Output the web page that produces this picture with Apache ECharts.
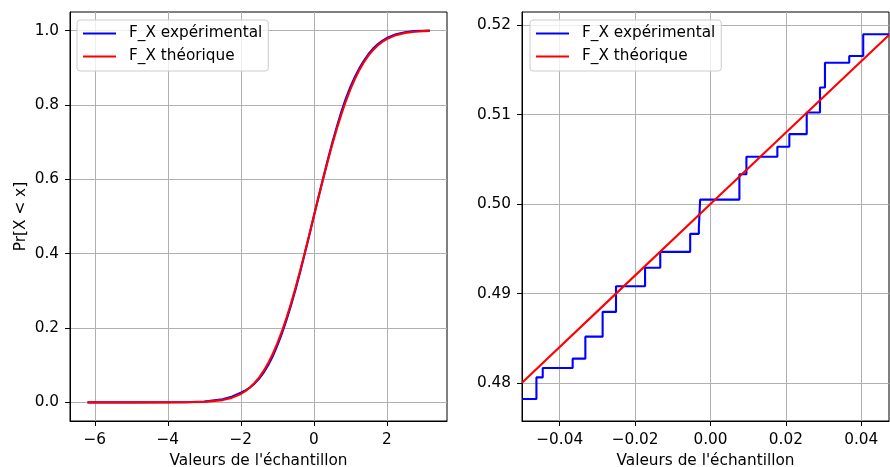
<!DOCTYPE html>
<html>
<head>
<meta charset="utf-8">
<script src="https://cdn.jsdelivr.net/npm/echarts@6/dist/echarts.min.js"></script>
<style>
  html, body { margin: 0; padding: 0; background: #ffffff; }
  #chart { width: 890px; height: 467px; }
</style>
</head>
<body>
<div id="chart"></div>
<script>
// ---------- Series names ----------
const nameExp = 'F_X expérimental';
const nameTheo = 'F_X théorique';

// ---------- Left panel: full CDF ----------
const leftX = [-6.2, -5.0, -4.0, -3.5, -3.0, -2.5, -2.25, -2.0, -1.875, -1.75, -1.625, -1.5, -1.375, -1.25, -1.125,
               -1.0, -0.875, -0.75, -0.625, -0.5, -0.375, -0.25, -0.125, 0.0, 0.125, 0.25, 0.375, 0.5, 0.625,
               0.75, 0.875, 1.0, 1.125, 1.25, 1.375, 1.5, 1.625, 1.75, 1.875, 2.0, 2.25, 2.5, 2.75, 3.0, 3.18];
const leftExp = [0.0001, 0.0001, 0.0003, 0.0006, 0.0025, 0.0085, 0.0150, 0.0260, 0.0325, 0.0400, 0.0505, 0.0635, 0.0800, 0.1000, 0.1240,
                 0.1525, 0.1850, 0.2210, 0.2610, 0.3040, 0.3500, 0.3990, 0.4490, 0.5005, 0.5510, 0.6005, 0.6490, 0.6960, 0.7395,
                 0.7800, 0.8165, 0.8480, 0.8755, 0.8990, 0.9195, 0.9370, 0.9515, 0.9630, 0.9725, 0.9800, 0.9900, 0.9955, 0.9985, 0.9996, 1.0000];
const leftTheo = [0.0000, 0.0000, 0.00003, 0.00023, 0.00135, 0.00621, 0.01222, 0.02275, 0.03040, 0.04006, 0.05208, 0.06681, 0.08459, 0.10565, 0.13029,
                  0.15866, 0.19079, 0.22663, 0.26599, 0.30854, 0.35383, 0.40129, 0.45026, 0.50000, 0.54974, 0.59871, 0.64617, 0.69146, 0.73401,
                  0.77337, 0.80921, 0.84134, 0.86971, 0.89435, 0.91541, 0.93319, 0.94792, 0.95994, 0.96960, 0.97725, 0.98778, 0.99379, 0.99702, 0.99865, 0.99926];

// ---------- Right panel: zoom around 0 ----------
// experimental step function: x of each jump and level after the jump
const rightExpX = [-0.0500, -0.04617, -0.04450, -0.03656, -0.03319, -0.02861, -0.02506, -0.01735, -0.01332, -0.00538,
                   -0.00308, -0.00273, 0.00768, 0.00954, 0.01775, 0.02093, 0.02554, 0.02906, 0.03038, 0.03682, 0.04053, 0.04737];
const rightExpY = [0.47823, 0.48065, 0.48170, 0.48274, 0.48520, 0.48796, 0.49082, 0.49289, 0.49467, 0.49668,
                   0.49735, 0.50050, 0.50333, 0.50529, 0.50640, 0.50781, 0.51022, 0.51302, 0.51578, 0.51653, 0.51896, 0.51896];
const rightTheoX = [-0.0500, -0.0250, 0.0000, 0.0250, 0.04737];
const rightTheoY = [0.48006, 0.49003, 0.50000, 0.50997, 0.51889];

// ---------- Tick values and labels ----------
const leftXTicks = [-6, -4, -2, 0, 2];
const leftXLabels = ['\u22126', '\u22124', '\u22122', '0', '2'];
const leftYTicks = [0, 0.2, 0.4, 0.6, 0.8, 1.0];
const leftYLabels = ['0.0', '0.2', '0.4', '0.6', '0.8', '1.0'];
const rightXTicks = [-0.04, -0.02, 0, 0.02, 0.04];
const rightXLabels = ['\u22120.04', '\u22120.02', '0.00', '0.02', '0.04'];
const rightYTicks = [0.48, 0.49, 0.50, 0.51, 0.52];
const rightYLabels = ['0.48', '0.49', '0.50', '0.51', '0.52'];

const xTitle = "Valeurs de l'échantillon";
const yTitle = 'Pr[X < x]';

// ---------- Helpers ----------
const FONT = 'DejaVu Sans';
const FS = 15.3;
function zip(xs, ys) { return xs.map((x, i) => [x, ys[i]]); }
function lookup(ticks, labels) {
  return function (v) {
    for (let i = 0; i < ticks.length; i++) {
      if (Math.abs(ticks[i] - v) < 1e-9) return labels[i];
    }
    return '';
  };
}
function valueAxis(gridIndex, min, max, ticks, labels, margin, extra) {
  return Object.assign({
    type: 'value',
    gridIndex: gridIndex,
    min: min,
    max: max,
    axisLine: { show: true, onZero: false, lineStyle: { color: '#000', width: 1 } },
    axisTick: { show: true, inside: false, length: 5, customValues: ticks, lineStyle: { color: '#000', width: 1 } },
    axisLabel: { show: true, customValues: ticks, formatter: lookup(ticks, labels), margin: margin,
                 color: '#000', fontFamily: FONT, fontSize: FS,
                 showMinLabel: true, showMaxLabel: true, hideOverlap: false },
    splitLine: { show: true, lineStyle: { color: '#b0b0b0', width: 1 } },
    nameTextStyle: { color: '#000', fontFamily: FONT, fontSize: FS }
  }, extra || {});
}

const legendCommon = {
  orient: 'vertical',
  itemWidth: 33,
  itemHeight: 14,
  itemGap: 8,
  icon: 'path://M0,0L33,0L33,2.1L0,2.1Z',
  padding: [6, 6, 7, 6],
  backgroundColor: 'rgba(255,255,255,0.8)',
  borderColor: '#cccccc',
  borderWidth: 1,
  borderRadius: 3,
  textStyle: { color: '#000', fontFamily: FONT, fontSize: FS, padding: [0, 0, 0, 8] },
  data: [nameExp, nameTheo]
};

const option = {
  animation: false,
  backgroundColor: '#ffffff',
  textStyle: { fontFamily: FONT },
  grid: [
    { left: 70, top: 12, width: 377, height: 409, containLabel: false, outerBoundsMode: 'none',
      show: true, borderColor: '#000', borderWidth: 1, backgroundColor: 'transparent' },
    { left: 522, top: 12, width: 367, height: 409, containLabel: false, outerBoundsMode: 'none',
      show: true, borderColor: '#000', borderWidth: 1, backgroundColor: 'transparent' }
  ],
  legend: [
    Object.assign({ left: 77, top: 20 }, legendCommon),
    Object.assign({ left: 530, top: 20 }, legendCommon)
  ],
  xAxis: [
    valueAxis(0, -6.68, 3.65, leftXTicks, leftXLabels, 12, { name: xTitle, nameLocation: 'middle', nameGap: 33 }),
    valueAxis(1, -0.05, 0.04737, rightXTicks, rightXLabels, 12, { name: xTitle, nameLocation: 'middle', nameGap: 33 })
  ],
  yAxis: [
    valueAxis(0, -0.05, 1.05, leftYTicks, leftYLabels, 11, { name: yTitle, nameLocation: 'middle', nameGap: 41 }),
    valueAxis(1, 0.47578, 0.52145, rightYTicks, rightYLabels, 11, {})
  ],
  series: [
    { name: nameExp, type: 'line', xAxisIndex: 0, yAxisIndex: 0, data: zip(leftX, leftExp),
      symbol: 'none', lineStyle: { color: '#0000ff', width: 2.1 }, itemStyle: { color: '#0000ff' }, z: 2 },
    { name: nameTheo, type: 'line', xAxisIndex: 0, yAxisIndex: 0, data: zip(leftX, leftTheo),
      symbol: 'none', lineStyle: { color: '#ff0000', width: 2.1 }, itemStyle: { color: '#ff0000' }, z: 3 },
    { name: nameExp, type: 'line', xAxisIndex: 1, yAxisIndex: 1, data: zip(rightExpX, rightExpY), step: 'end',
      symbol: 'none', lineStyle: { color: '#0000ff', width: 2.1 }, itemStyle: { color: '#0000ff' }, z: 2 },
    { name: nameTheo, type: 'line', xAxisIndex: 1, yAxisIndex: 1, data: zip(rightTheoX, rightTheoY),
      symbol: 'none', lineStyle: { color: '#ff0000', width: 2.1 }, itemStyle: { color: '#ff0000' }, z: 3 }
  ]
};

const chart = echarts.init(document.getElementById('chart'), null, { renderer: 'canvas' });
chart.setOption(option);
</script>
</body>
</html>
